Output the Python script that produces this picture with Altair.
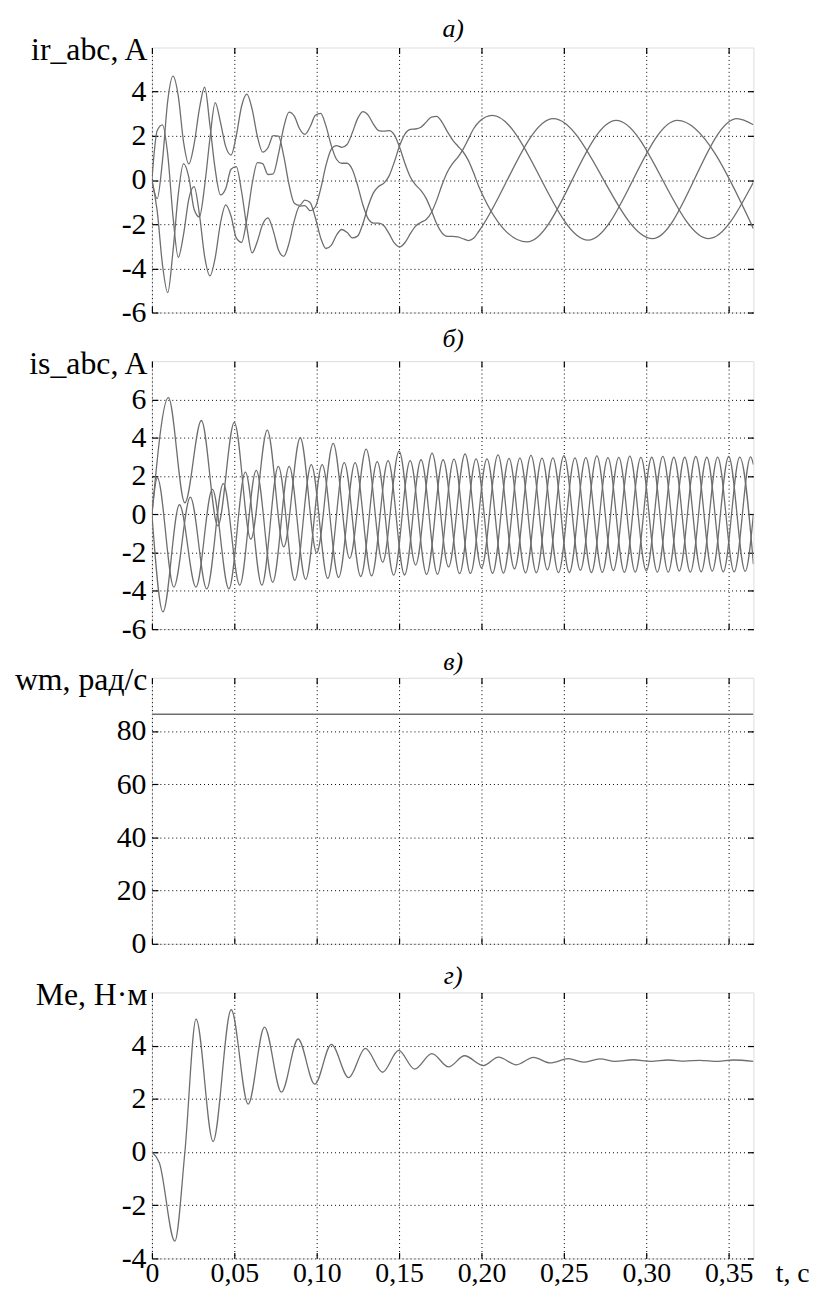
import altair as alt
import pandas as pd

# ---------------- data ----------------
X_DOMAIN = [0, 0.365]
X_TICKS = [0, 0.05, 0.1, 0.15, 0.2, 0.25, 0.3, 0.35]

# (а) rotor currents ir_abc, A  -- dense early part (shared times)
T_IR_FINE = [0, 0.0032, 0.0064, 0.0096, 0.0128, 0.016, 0.0192, 0.0224, 0.0256, 0.0288,
             0.032, 0.0352, 0.0384, 0.0416, 0.0448, 0.048, 0.0512, 0.0544, 0.0576, 0.0608,
             0.064, 0.0672, 0.0704, 0.0736, 0.0768, 0.08, 0.0832, 0.0864, 0.0896, 0.0928,
             0.096, 0.0992, 0.1024, 0.1056, 0.1088, 0.112, 0.1152, 0.1184, 0.1216, 0.1248,
             0.128, 0.1312, 0.1344, 0.1376, 0.1408, 0.144, 0.1472, 0.1504, 0.1536, 0.1568,
             0.16, 0.1632, 0.1664, 0.1696, 0.1728, 0.176, 0.1792, 0.1824, 0.1856, 0.1888,
             0.192, 0.1952, 0.1984]
IR_A_FINE = [0, -1.40, -3.83, -5.1, -3.21, -0.64, 0.74, 0.12, -1.32, -1.67,
             -0.26, 1.87, 3.5, 2.61, 1.51, 1.13, 2.01, 3.34, 3.89, 3.21,
             1.97, 1.26, 1.46, 2.01, 1.99, 1.08, -0.21, -1.05, -1.15, -0.91,
             -1.02, -1.72, -2.62, -3.10, -2.96, -2.50, -2.24, -2.37, -2.62, -2.54,
             -1.98, -1.19, -0.58, -0.29, -0.14, 0.20, 0.84, 1.57, 2.09, 2.29,
             2.31, 2.39, 2.62, 2.85, 2.88, 2.62, 2.20, 1.82, 1.54, 1.28,
             0.89, 0.33, -0.30]
IR_B_FINE = [0, 2.24, 2.5, 1.15, -1.66, -3.5, -2.46, -0.85, -0.30, -1.54,
             -3.47, -4.34, -3.52, -1.95, -1.13, -1.63, -2.62, -2.82, -1.77, -0.18,
             0.79, 0.74, 0.25, 0.28, 1.18, 2.39, 3.07, 2.89, 2.32, 2.07,
             2.41, 2.93, 3.02, 2.45, 1.57, 0.94, 0.76, 0.76, 0.48, -0.24,
             -1.12, -1.75, -1.95, -1.95, -2.07, -2.44, -2.86, -3.03, -2.83, -2.43,
             -2.09, -1.92, -1.79, -1.47, -0.91, -0.23, 0.35, 0.74, 1.03, 1.39,
             1.85, 2.32, 2.63]
IR_C_FINE = [0, -0.84, 0.87, 3.59, 4.7, 3.80, 1.72, 0.73, 1.62, 3.22,
             4.2, 2.48, 0.48, -0.67, -0.38, 0.49, 0.61, -0.52, -2.13, -3.3,
             -2.77, -2.00, -1.71, -2.29, -3.17, -3.46, -2.86, -1.84, -1.18, -1.16,
             -1.39, -1.21, -0.40, 0.66, 1.39, 1.56, 1.48, 1.61, 2.14, 2.78,
             3.10, 2.94, 2.53, 2.24, 2.21, 2.24, 2.03, 1.46, 0.74, 0.14,
             -0.22, -0.47, -0.83, -1.38, -1.98, -2.39, -2.55, -2.55, -2.57, -2.66,
             -2.74, -2.64, -2.32]
# steady part: extrema of each phase
IR_A_TAIL_T = [0.2276, 0.2817, 0.3379, 0.365]
IR_A_TAIL_V = [-2.8, 2.7, -2.65, -0.1]
IR_B_TAIL_T = [0.2066, 0.2647, 0.3189, 0.365]
IR_B_TAIL_V = [2.93, -2.72, 2.7, -2.2]
IR_C_TAIL_T = [0.2436, 0.3038, 0.355, 0.365]
IR_C_TAIL_V = [2.78, -2.65, 2.78, 2.5]

# (б) stator currents is_abc, A -- extrema of each phase
IS_A_T = [0, 0.01, 0.02, 0.03, 0.04, 0.05, 0.06, 0.07, 0.08, 0.09, 0.10, 0.11, 0.12, 0.13,
          0.14, 0.15, 0.16, 0.17, 0.18, 0.19, 0.20, 0.21, 0.22, 0.23, 0.24, 0.25, 0.26,
          0.27, 0.28, 0.29, 0.30, 0.31, 0.32, 0.33, 0.34, 0.35, 0.36, 0.365]
IS_A_V = [0, 6.1, 0.6, 4.9, -0.6, 4.8, -1.3, 4.4, -1.7, 4.0, -2.0, 3.7, -2.3, 3.4,
          -2.5, 3.3, -2.65, 3.2, -2.75, 3.15, -2.8, 3.1, -2.85, 3.08, -2.9, 3.06, -2.92,
          3.05, -2.94, 3.04, -2.95, 3.03, -2.96, 3.02, -2.97, 3.02, -2.98, 0.0]
IS_B_T = [0, 0.0067, 0.0167, 0.0267, 0.0367, 0.0467, 0.0567, 0.0667, 0.0767, 0.0867,
          0.0967, 0.1067, 0.1167, 0.1267, 0.1367, 0.1467, 0.1567, 0.1667, 0.1767, 0.1867,
          0.1967, 0.2067, 0.2167, 0.2267, 0.2367, 0.2467, 0.2567, 0.2667, 0.2767, 0.2867,
          0.2967, 0.3067, 0.3167, 0.3267, 0.3367, 0.3467, 0.3567, 0.365]
IS_B_V = [0, -5.1, 0.5, -3.8, 1.3, -3.9, 2.2, -3.7, 2.5, -3.45,
          2.6, -3.35, 2.7, -3.25, 2.75, -3.18, 2.8, -3.14, 2.85, -3.1,
          2.9, -3.08, 2.92, -3.06, 2.94, -3.05, 2.95, -3.04, 2.96, -3.03,
          2.97, -3.02, 2.98, -3.02, 2.98, -3.01, 2.99, -2.6]
IS_C_T = [0, 0.0033, 0.0133, 0.0233, 0.0333, 0.0433, 0.0533, 0.0633, 0.0733, 0.0833,
          0.0933, 0.1033, 0.1133, 0.1233, 0.1333, 0.1433, 0.1533, 0.1633, 0.1733, 0.1833,
          0.1933, 0.2033, 0.2133, 0.2233, 0.2333, 0.2433, 0.2533, 0.2633, 0.2733, 0.2833,
          0.2933, 0.3033, 0.3133, 0.3233, 0.3333, 0.3433, 0.3533, 0.3633, 0.365]
IS_C_V = [0, 1.9, -3.8, 0.9, -3.9, 1.6, -3.7, 2.3, -3.55, 2.5,
          -3.4, 2.6, -3.3, 2.7, -3.22, 2.8, -3.17, 2.85, -3.13, 2.88,
          -3.09, 2.9, -3.07, 2.93, -3.05, 2.95, -3.04, 2.96, -3.03, 2.97,
          -3.02, 2.98, -3.02, 2.98, -3.01, 2.99, -3.01, 3.0, 2.6]

# (в) speed wm, рад/с
WM_T = [0, 0.365]
WM_V = [86.3, 86.3]

# (г) torque Me, Н·м
ME_T = [0, 0.0045, 0.0139, 0.0200, 0.0268, 0.0371, 0.0481, 0.0584, 0.0683, 0.0786,
        0.0887, 0.0988, 0.1089, 0.1194, 0.1295, 0.14, 0.1497, 0.1594, 0.1699, 0.18,
        0.1897, 0.2012, 0.2103, 0.2212, 0.2315, 0.2416, 0.2527, 0.2618, 0.2719, 0.2810,
        0.292, 0.303, 0.3133, 0.3234, 0.3325, 0.3436, 0.3527, 0.365]
ME_V = [0, -0.4, -3.35, 0.0, 5.0, 0.4, 5.35, 1.8, 4.7, 2.25,
        4.25, 2.55, 4.05, 2.8, 3.9, 3.0, 3.82, 3.12, 3.7, 3.2,
        3.62, 3.25, 3.57, 3.28, 3.56, 3.35, 3.51, 3.38, 3.5, 3.41,
        3.47, 3.41, 3.46, 3.42, 3.45, 3.41, 3.46, 3.41]

# panel texts and axes
PANEL_TITLES = ["а)", "б)", "в)", "г)"]
Y_TITLES = ["ir_abc, A", "is_abc, A", "wm, рад/с", "Me, Н·м"]
Y_DOMAINS = [[-6, 6], [-6, 8], [0, 100], [-4, 6]]
Y_TICKS = [[-6, -4, -2, 0, 2, 4], [-6, -4, -2, 0, 2, 4, 6], [0, 20, 40, 60, 80], [-4, -2, 0, 2, 4]]

# ---------------- build tables ----------------
def frame(series):
    rows = []
    for name, ts, vs in series:
        for t, v in zip(ts, vs):
            rows.append({"t": t, "v": v, "s": name})
    return pd.DataFrame(rows)

df_ir = frame([
    ("a", T_IR_FINE + IR_A_TAIL_T, IR_A_FINE + IR_A_TAIL_V),
    ("b", T_IR_FINE + IR_B_TAIL_T, IR_B_FINE + IR_B_TAIL_V),
    ("c", T_IR_FINE + IR_C_TAIL_T, IR_C_FINE + IR_C_TAIL_V),
])
df_is = frame([("a", IS_A_T, IS_A_V), ("b", IS_B_T, IS_B_V), ("c", IS_C_T, IS_C_V)])
df_wm = frame([("w", WM_T, WM_V)])
df_me = frame([("m", ME_T, ME_V)])

FONT = "Liberation Serif"
W = 606
HEIGHTS = [267, 270, 268, 268]
TITLE_FS = 26
# text-top of each panel letter, above the plot top
TITLE_Y = [-32, -36, -29, -30]
LINE_COLOR = "#6e6e6e"

GRID = dict(grid=True, gridColor="black", gridDash=[1, 3], gridWidth=1, gridOpacity=1)
TICKS_ONLY = dict(labels=False, ticks=True, tickSize=6, tickColor="black", tickWidth=1.2,
                  domain=False, grid=False, minExtent=0, maxExtent=0)
Y_LABEL_EXPR = "datum.value < 0 ? '-' + abs(datum.value) : '' + datum.value"
X_LABEL_EXPR = "datum.value == 0 ? '0' : replace(format(datum.value, '.2f'), '.', ',')"


def panel(df, idx, bottom=False):
    h = HEIGHTS[idx]
    xs = alt.Scale(domain=X_DOMAIN, nice=False, zero=False)
    ys = alt.Scale(domain=Y_DOMAINS[idx], nice=False, zero=False)
    if bottom:
        xaxis = alt.Axis(orient="bottom", values=X_TICKS, ticks=True, tickSize=0, tickOpacity=0,
                         domain=False,
                         labels=True, labelFont=FONT, labelFontSize=28, labelColor="black",
                         labelPadding=1, labelFlush=False, labelOverlap=False, labelBound=False,
                         labelExpr=X_LABEL_EXPR,
                         title="t, c", titleFont=FONT, titleFontSize=28, titleFontWeight="normal",
                         titleColor="black", titleX=628, titleY=23, titleAlign="left",
                         titleBaseline="alphabetic", **GRID)
    else:
        xaxis = alt.Axis(orient="bottom", values=X_TICKS, ticks=False, tickSize=0, domain=False,
                         labels=False, title=None, minExtent=0, maxExtent=0, **GRID)
    yaxis = alt.Axis(orient="left", values=Y_TICKS[idx], ticks=True, tickSize=0, tickOpacity=0,
                     domain=False,
                     labelFont=FONT, labelFontSize=30, labelColor="black", labelPadding=6,
                     labelFlush=False, labelOverlap=False, labelBound=False, labelExpr=Y_LABEL_EXPR,
                     title=Y_TITLES[idx], titleFont=FONT, titleFontSize=32, titleFontWeight="normal",
                     titleColor="black", titleAngle=0, titleAlign="right", titleBaseline="alphabetic",
                     titleX=-5, titleY=12, **GRID)
    line = alt.Chart(df).mark_line(color=LINE_COLOR, strokeWidth=1.3, interpolate="monotone",
                                   clip=True).encode(
        x=alt.X("t:Q", scale=xs, axis=xaxis),
        y=alt.Y("v:Q", scale=ys, axis=yaxis),
        detail="s:N",
        order="t:Q",
    )
    corners = pd.DataFrame({"t": X_DOMAIN, "v": Y_DOMAINS[idx]})
    # inward ticks on the bottom edge and on the left edge
    ticks_a = alt.Chart(corners).mark_point(opacity=0, size=1).encode(
        x=alt.X("t:Q", scale=xs,
                axis=alt.Axis(orient="top", offset=-h, values=X_TICKS, title=None, **TICKS_ONLY)),
        y=alt.Y("v:Q", scale=ys,
                axis=alt.Axis(orient="right", offset=-W, values=Y_TICKS[idx], title=None, **TICKS_ONLY)),
    )
    # inward ticks on the top edge (carrying the panel letter) and on the right edge
    ticks_b = alt.Chart(corners).mark_point(opacity=0, size=1).encode(
        x=alt.X("t:Q", scale=xs,
                axis=alt.Axis(orient="bottom", offset=-h, values=X_TICKS,
                              title=PANEL_TITLES[idx], titleFont=FONT, titleFontSize=TITLE_FS,
                              titleFontStyle="italic", titleFontWeight="normal", titleColor="black",
                              titleX=W / 2, titleY=TITLE_Y[idx], titleAlign="center",
                              titleBaseline="top", **TICKS_ONLY)),
        y=alt.Y("v:Q", scale=ys,
                axis=alt.Axis(orient="left", offset=-W, values=Y_TICKS[idx], title=None, **TICKS_ONLY)),
    )
    return alt.layer(line, ticks_a, ticks_b).resolve_axis(x="independent", y="independent").properties(
        width=W, height=h,
    )


chart = alt.vconcat(
    panel(df_ir, 0), panel(df_is, 1), panel(df_wm, 2), panel(df_me, 3, bottom=True),
    spacing=49, bounds="flush",
).properties(
    padding={"left": 5, "top": 2, "right": 0, "bottom": 0},
).configure_view(
    stroke="black", strokeWidth=1.5,
).configure(font=FONT)

chart.save("out.html", embed_options={"renderer": "svg", "actions": False})
